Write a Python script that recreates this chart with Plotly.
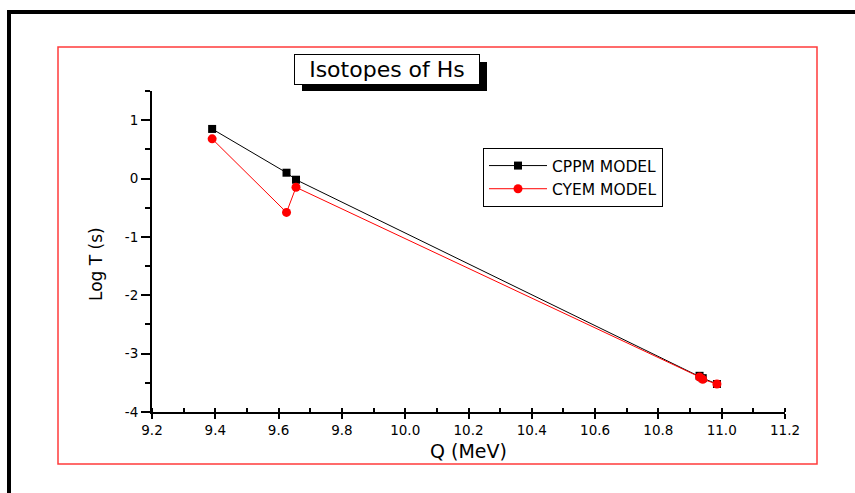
import plotly.graph_objects as go

q_mev = [9.39, 9.625, 9.655, 10.93, 10.94, 10.985]
cppm_logt = [0.85, 0.10, -0.02, -3.38, -3.42, -3.52]
cyem_logt = [0.68, -0.58, -0.15, -3.40, -3.44, -3.52]

x_ticks = [9.2, 9.4, 9.6, 9.8, 10.0, 10.2, 10.4, 10.6, 10.8, 11.0, 11.2]
x_tick_labels = ["9.2", "9.4", "9.6", "9.8", "10.0", "10.2", "10.4", "10.6", "10.8", "11.0", "11.2"]
y_ticks = [-4, -3, -2, -1, 0, 1]
y_tick_labels = ["-4", "-3", "-2", "-1", "0", "1"]

W, H = 855, 493
L, R, T, B = 152, 785, 91, 412
pw, ph = R - L, B - T

def px(x):
    return (x - L) / pw

def py(y):
    return (B - y) / ph

FONT = "DejaVu Sans"

fig = go.Figure()
fig.add_trace(go.Scatter(
    x=q_mev, y=cppm_logt, mode="lines+markers", name="CPPM MODEL",
    line=dict(color="black", width=1),
    marker=dict(symbol="square", size=8, color="black"),
))
fig.add_trace(go.Scatter(
    x=q_mev, y=cyem_logt, mode="lines+markers", name="CYEM MODEL",
    line=dict(color="red", width=1),
    marker=dict(symbol="circle", size=9, color="red"),
))

fig.update_layout(
    width=W, height=H,
    margin=dict(l=L, r=W - R, t=T, b=H - B),
    paper_bgcolor="white", plot_bgcolor="white",
    font=dict(family=FONT, color="black"),
    showlegend=True,
    legend=dict(
        x=px(483), y=py(148), xanchor="left", yanchor="top",
        bordercolor="black", borderwidth=1, bgcolor="white",
        font=dict(size=15.5, family=FONT, color="black"),
        tracegroupgap=0, itemwidth=58,
    ),
    xaxis=dict(
        range=[9.2, 11.2], tickvals=x_ticks, ticktext=x_tick_labels,
        showgrid=False, zeroline=False, showline=True, linecolor="black", linewidth=2,
        ticks="outside", ticklen=5, tickwidth=1.5, tickcolor="black",
        tickfont=dict(size=13.5, family=FONT),
        minor=dict(dtick=0.1, ticks="inside", ticklen=4, tickwidth=1.5, tickcolor="black", showgrid=False),
        mirror=False,
    ),
    yaxis=dict(
        range=[-4, 1.5], tickvals=y_ticks, ticktext=y_tick_labels,
        showgrid=False, zeroline=False, showline=True, linecolor="black", linewidth=2,
        ticks="outside", ticklen=9, tickwidth=1.5, tickcolor="black",
        tickfont=dict(size=13.5, family=FONT),
        minor=dict(dtick=0.5, ticks="outside", ticklen=5, tickwidth=1.5, tickcolor="black", showgrid=False),
        mirror=False,
    ),
)

shapes = [
    # outer black frame (extends past the page)
    dict(type="rect", xref="paper", yref="paper",
         x0=px(9), x1=px(1000), y0=py(700), y1=py(12),
         line=dict(color="black", width=4), layer="below"),
    # red frame
    dict(type="rect", xref="paper", yref="paper",
         x0=px(58), x1=px(817), y0=py(464), y1=py(47),
         line=dict(color="#ff3b3b", width=1.5), layer="below"),
    # title shadow
    dict(type="rect", xref="paper", yref="paper",
         x0=px(302), x1=px(487), y0=py(91), y1=py(62),
         line=dict(width=0), fillcolor="black", layer="above"),
]
fig.update_layout(shapes=shapes)

annotations = [
    dict(text="Isotopes of Hs", xref="paper", yref="paper",
         x=px(387), y=py(69.5), xanchor="center", yanchor="middle",
         showarrow=False, font=dict(size=22, family=FONT, color="black"),
         bgcolor="white", bordercolor="black", borderwidth=1,
         width=182, height=27),
    dict(text="Q (MeV)", xref="paper", yref="paper",
         x=px(468), y=py(451), xanchor="center", yanchor="middle",
         showarrow=False, font=dict(size=19, family=FONT, color="black")),
    dict(text="Log T (s)", xref="paper", yref="paper",
         x=px(96), y=py(264), xanchor="center", yanchor="middle",
         showarrow=False, textangle=-90, font=dict(size=17, family=FONT, color="black")),
]
fig.update_layout(annotations=annotations)

fig.write_html("out.html")
